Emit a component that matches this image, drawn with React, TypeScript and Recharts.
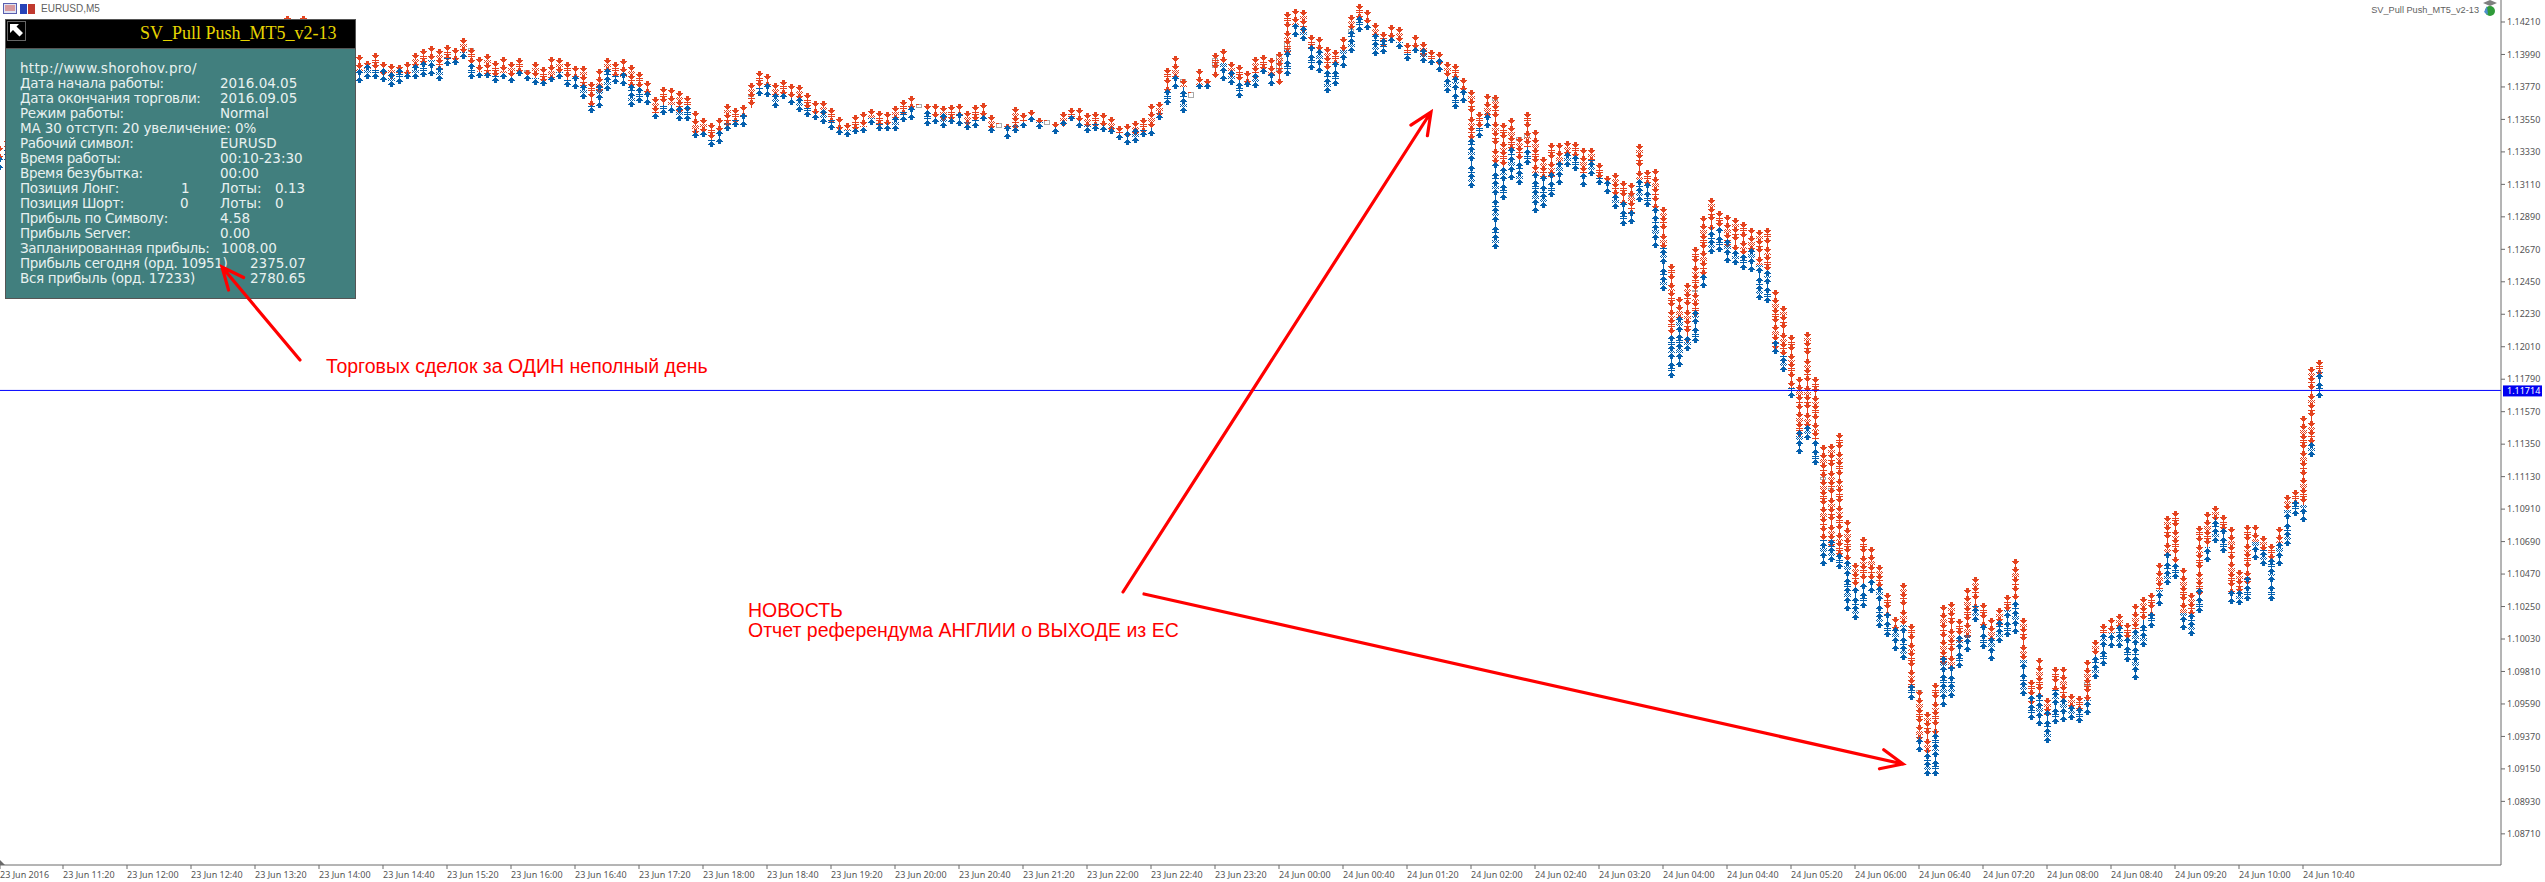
import { ComposedChart, Bar, XAxis, YAxis, ReferenceLine } from "recharts";

// M5 bars, prices in points (1/100000)
const barHigh = [
  113370, 113420, 113480, 113510, 113560, 113600, 113580, 113640, 113680, 113720,
  113700, 113760, 113790, 113830, 113810, 113860, 113900, 113880, 113930, 113960,
  113940, 113990, 114010, 113980, 114030, 114060, 114040, 114090, 114110, 114080,
  114130, 114150, 114120, 114170, 114190, 114210, 114251, 114200, 114251, 114180,
  114150, 114110, 114080, 114040, 114010, 113984, 113948, 113998, 113941, 113923,
  113917, 113941, 113998, 114027, 114048, 114027, 114054, 114032, 114100, 114032,
  113975, 113991, 113948, 113971, 113937, 113964, 113885, 113937, 113903, 113971,
  113964, 113937, 113912, 113912, 113806, 113894, 113964, 113937, 113957, 113919,
  113869, 113810, 113704, 113768, 113761, 113743, 113711, 113607, 113558, 113524,
  113558, 113652, 113625, 113648, 113795, 113878, 113858, 113795, 113817, 113790,
  113783, 113727, 113673, 113675, 113625, 113564, 113524, 113578, 113598, 113621,
  113607, 113600, 113641, 113682, 113709, 113652, 113652, 113655, 113641, 113648,
  113655, 113605, 113648, 113659, 113580, 113528, 113519, 113632, 113591, 113614,
  113558, 113546, 113533, 113600, 113625, 113628, 113591, 113600, 113591, 113564,
  113506, 113519, 113542, 113558, 113655, 113666, 113896, 113980, 113822, 113738,
  113890, 113822, 113998, 114025, 113937, 113919, 113880, 113975, 113986, 113964,
  114009, 114275, 114298, 114291, 114122, 114106, 114043, 114020, 114106, 114260,
  114330, 114291, 114205, 114140, 114187, 114174, 114065, 114122, 114077, 114020,
  114004, 113941, 113923, 113828, 113749, 113600, 113722, 113715, 113526, 113560,
  113431, 113600, 113478, 113295, 113390, 113390, 113404, 113397, 113356, 113356,
  113255, 113167, 113187, 113133, 113119, 113383, 113207, 113214, 112957, 112570,
  112347, 112442, 112686, 112896, 113018, 112929, 112902, 112882, 112855, 112814,
  112801, 112814, 112394, 112286, 112089, 111805, 112110, 111805, 111344, 111351,
  111425, 110836, 110545, 110721, 110653, 110531, 110341, 110179, 110409, 110131,
  109684, 109535, 109732, 110260, 110280, 110165, 110375, 110450, 110274, 110172,
  110240, 110328, 110572, 110172, 109752, 109901, 109630, 109840, 109840, 109657,
  109644, 109887, 110023, 110131, 110172, 110199, 110138, 110267, 110314, 110341,
  110545, 110863, 110897, 110511, 110341, 110795, 110890, 110931, 110870, 110789,
  110497, 110802, 110802, 110728, 110673, 110789, 111005, 111039, 111541, 111873,
  111920,
];
const barMid = [
  113288, 113330, 113390, 113430, 113470, 113520, 113490, 113550, 113590, 113640,
  113620, 113680, 113700, 113750, 113740, 113780, 113820, 113800, 113860, 113880,
  113870, 113910, 113930, 113920, 113950, 113980, 113970, 114010, 114030, 114020,
  114050, 114060, 114050, 114090, 114100, 114120, 114150, 114120, 114140, 114090,
  114060, 114030, 113990, 113960, 113930, 113874, 113890, 113885, 113862, 113851,
  113862, 113874, 113908, 113919, 113953, 113908, 113964, 113964, 114009, 113908,
  113874, 113874, 113851, 113862, 113840, 113885, 113840, 113829, 113817, 113840,
  113874, 113817, 113817, 113772, 113648, 113761, 113885, 113851, 113840, 113783,
  113750, 113727, 113591, 113648, 113648, 113614, 113614, 113479, 113467, 113411,
  113467, 113524, 113546, 113558, 113625, 113761, 113761, 113693, 113727, 113693,
  113677, 113625, 113603, 113591, 113546, 113501, 113479, 113490, 113501, 113558,
  113524, 113524, 113546, 113603, 113625, 113641, 113614, 113564, 113558, 113569,
  113580, 113535, 113546, 113580, 113501, 113512, 113490, 113512, 113535, 113564,
  113535, 113528, 113501, 113535, 113569, 113546, 113512, 113524, 113512, 113501,
  113456, 113445, 113456, 113479, 113490, 113591, 113750, 113851, 113772, 113727,
  113783, 113795, 113862, 113930, 113851, 113817, 113817, 113851, 113896, 113851,
  113794, 114020, 114190, 114167, 114020, 114020, 113862, 113919, 114020, 114167,
  114246, 114201, 114133, 114065, 114099, 114077, 113998, 114043, 114009, 113953,
  113930, 113840, 113817, 113749, 113390, 113492, 113593, 113255, 113228, 113343,
  113275, 113363, 113187, 113139, 113160, 113241, 113322, 113289, 113187, 113275,
  113160, 113119, 113038, 112970, 112923, 113139, 113092, 112957, 112686, 112076,
  112191, 112055, 112238, 112482, 112821, 112821, 112713, 112665, 112631, 112665,
  112564, 112530, 112022, 111954, 111730, 111425, 111459, 111378, 110700, 110680,
  110585, 110565, 110382, 110409, 110429, 110362, 110192, 110091, 110125, 109705,
  109366, 109278, 109413, 109887, 109820, 110023, 110057, 110260, 110125, 110023,
  110125, 110226, 110294, 109887, 109616, 109650, 109515, 109684, 109616, 109583,
  109562, 109616, 109921, 110070, 110070, 110125, 110023, 110091, 110158, 110206,
  110362, 110585, 110545, 110206, 110206, 110341, 110653, 110850, 110748, 110341,
  110362, 110429, 110687, 110633, 110545, 110680, 110904, 110958, 110938, 111344,
  111839,
];
const barLow = [
  113207, 113260, 113300, 113350, 113400, 113440, 113420, 113480, 113520, 113560,
  113570, 113610, 113640, 113680, 113690, 113710, 113750, 113760, 113790, 113820,
  113830, 113850, 113870, 113860, 113890, 113910, 113920, 113950, 113970, 113960,
  113990, 114000, 114000, 114020, 114040, 114050, 114070, 114060, 114060, 114010,
  113980, 113940, 113910, 113880, 113840, 113799, 113822, 113822, 113806, 113772,
  113788, 113822, 113822, 113835, 113847, 113813, 113912, 113921, 113957, 113826,
  113833, 113833, 113799, 113822, 113799, 113847, 113813, 113786, 113777, 113806,
  113822, 113772, 113756, 113686, 113591, 113625, 113745, 113788, 113777, 113637,
  113659, 113646, 113551, 113578, 113596, 113542, 113542, 113427, 113433, 113366,
  113381, 113474, 113501, 113501, 113625, 113711, 113704, 113630, 113691, 113650,
  113603, 113569, 113546, 113519, 113479, 113445, 113433, 113451, 113460, 113512,
  113472, 113472, 113472, 113535, 113546, 113630, 113506, 113519, 113494, 113517,
  113506, 113479, 113492, 113539, 113460, 113501, 113418, 113460, 113490, 113535,
  113485, 113519, 113451, 113508, 113542, 113494, 113460, 113474, 113467, 113451,
  113411, 113377, 113393, 113429, 113440, 113546, 113648, 113756, 113596, 113704,
  113754, 113754, 113862, 113813, 113783, 113693, 113772, 113761, 113858, 113776,
  113794, 113844, 114111, 114083, 113885, 113867, 113731, 113776, 113896, 114002,
  114140, 114156, 113980, 113993, 114065, 114025, 113948, 114002, 113930, 113919,
  113873, 113731, 113618, 113663, 113085, 113424, 113492, 112672, 113004, 113139,
  113106, 113241, 112916, 112950, 113024, 113106, 113228, 113200, 113092, 113167,
  113106, 113045, 112943, 112828, 112841, 112990, 112957, 112679, 112387, 111798,
  111873, 111981, 112035, 112408, 112638, 112652, 112577, 112564, 112530, 112516,
  112326, 112306, 111961, 111839, 111663, 111283, 111378, 111209, 110524, 110551,
  110504, 110219, 110158, 110240, 110341, 110104, 110043, 109948, 109887, 109616,
  109264, 109102, 109102, 109569, 109630, 109833, 109942, 110145, 109962, 109881,
  110003, 110043, 110064, 109644, 109481, 109440, 109325, 109454, 109467, 109481,
  109461, 109515, 109759, 109847, 109969, 109969, 109874, 109752, 109976, 110104,
  110253, 110396, 110436, 110091, 110050, 110206, 110551, 110680, 110612, 110267,
  110260, 110287, 110565, 110524, 110287, 110524, 110660, 110863, 110822, 111263,
  111663,
];

// grey candles that show through the deal marks
const greyBars = [59, 66, 94, 148, 152, 160, 161, 169, 187, 190, 191, 204, 212, 228, 229, 240, 261];
const greyHigh = [114032, 113885, 113625, 113822, 113930, 113953, 113840, 114043, 113670, 113438, 113275, 112936, 112044, 110870, 110700, 109684, 109562];
const greyLow = [113987, 113863, 113603, 113783, 113795, 113727, 113738, 114002, 113636, 113388, 113234, 112914, 112033, 110836, 110670, 109650, 109515];

const priceTicks = [
  114210, 113990, 113770, 113550, 113330, 113110, 112890, 112670, 112450, 112230,
  112010, 111790, 111570, 111350, 111130, 110910, 110690, 110470, 110250, 110030,
  109810, 109590, 109370, 109150, 108930, 108710,
];
const lastPrice = 111714;

const timeTickBars = [
  0.125, 8, 16, 24, 32, 40, 48, 56, 64, 72, 80, 88, 96, 104, 112, 120, 128, 136, 144,
  152, 160, 168, 176, 184, 192, 200, 208, 216, 224, 232, 240, 248, 256, 264, 272, 280, 288,
];
const timeLabels = [
  "23 Jun 2016", "23 Jun 11:20", "23 Jun 12:00", "23 Jun 12:40", "23 Jun 13:20", "23 Jun 14:00",
  "23 Jun 14:40", "23 Jun 15:20", "23 Jun 16:00", "23 Jun 16:40", "23 Jun 17:20", "23 Jun 18:00",
  "23 Jun 18:40", "23 Jun 19:20", "23 Jun 20:00", "23 Jun 20:40", "23 Jun 21:20", "23 Jun 22:00",
  "23 Jun 22:40", "23 Jun 23:20", "24 Jun 00:00", "24 Jun 00:40", "24 Jun 01:20", "24 Jun 02:00",
  "24 Jun 02:40", "24 Jun 03:20", "24 Jun 04:00", "24 Jun 04:40", "24 Jun 05:20", "24 Jun 06:00",
  "24 Jun 06:40", "24 Jun 07:20", "24 Jun 08:00", "24 Jun 08:40", "24 Jun 09:20", "24 Jun 10:00",
  "24 Jun 10:40",
];

const panelRows: [string, number][][] = [
  [["http://www.shorohov.pro/", 20]],
  [["Дата начала работы:", 20], ["2016.04.05", 220]],
  [["Дата окончания торговли:", 20], ["2016.09.05", 220]],
  [["Режим работы:", 20], ["Normal", 220]],
  [["MA 30 отступ: 20 увеличение: 0%", 20]],
  [["Рабочий символ:", 20], ["EURUSD", 220]],
  [["Время работы:", 20], ["00:10-23:30", 220]],
  [["Время безубытка:", 20], ["00:00", 220]],
  [["Позиция Лонг:", 20], ["1", 181], ["Лоты:", 220], ["0.13", 275]],
  [["Позиция Шорт:", 20], ["0", 180], ["Лоты:", 220], ["0", 275]],
  [["Прибыль по Символу:", 20], ["4.58", 220]],
  [["Прибыль Server:", 20], ["0.00", 220]],
  [["Запланированная прибыль:", 20], ["1008.00", 221]],
  [["Прибыль сегодня (орд. 10951)", 20], ["2375.07", 250]],
  [["Вся прибыль (орд. 17233)", 20], ["2780.65", 250]],
];

const rows = barHigh.map((high, i) => {
  const g = greyBars.indexOf(i);
  return {
    bar: i,
    high,
    mid: barMid[i],
    low: barLow[i],
    greyHigh: g >= 0 ? greyHigh[g] : null,
    greyLow: g >= 0 ? greyLow[g] : null,
  };
});

const RED = "#e4431f";
const BLUE = "#0560ae";
const GREY = "#aaaaaa";
const AXIS = "#6a6a6a";
const TICK_FONT = "'Noto Sans', 'Liberation Sans', sans-serif";
const ARROW_ROWS = [3, 3, 7, 5, 3, 1];

// pixel glyph helpers, y always grows downward
const pxRow = (cx: number, y: number, w: number) => `M${cx - (w - 1) / 2} ${y}h${w}v1h-${w}z`;

function fillGap(cx: number, y0: number, y1: number, kind: number) {
  let d = "";
  for (let y = y0; y < y1; y++) {
    if (kind === 1) {
      for (let j = (y % 2) - 3; j <= 3; j += 2) d += `M${cx + j} ${y}h1v1h-1z`;
    } else if (kind === 2) {
      if (y % 2 === 0) d += pxRow(cx, y, 7);
      else d += pxRow(cx, y, 1);
    } else {
      d += pxRow(cx, y, 1);
    }
  }
  return d;
}

function buildMarks(cx: number, top: number, bottom: number, bar: number, down: boolean) {
  // walks from the outer end of the section towards the middle of the bar
  let d = "";
  const span = bottom - top;
  let walked = 0;
  let n = 0;
  while (walked < span || n === 0) {
    ARROW_ROWS.forEach((w, k) => {
      const y = down ? top + walked + k : bottom - walked - k - 1;
      d += pxRow(cx, y, w);
    });
    const gap = 2 + ((bar + n * 2) % 3);
    const kind = (bar * 7 + n) % 3;
    const from = walked + 6;
    const to = Math.min(walked + 6 + gap, span);
    if (to > from) {
      d += down
        ? fillGap(cx, top + from, top + to, kind)
        : fillGap(cx, bottom - to, bottom - from, kind);
    }
    walked += 6 + gap;
    n++;
  }
  return d;
}

function DealColumn(props: any) {
  const { x, y, width, height, payload } = props;
  if (x == null || y == null) return null;
  const cx = Math.round(x + width / 2);
  const { high, mid, low, greyHigh: gh, greyLow: gl, bar } = payload;
  const pxPerPoint = height > 0 ? height / (high - low) : 0.06775;
  const top = Math.round(y);
  const bottom = Math.round(y + height);
  const midY = Math.round(y + (high - mid) * pxPerPoint);
  const grey =
    gh != null ? (
      <rect
        x={cx - 2.5}
        y={Math.round(y + (high - gh) * 0.06775) + 0.5}
        width={5}
        height={Math.max(1, Math.round((gh - gl) * 0.06775))}
        fill="none"
        stroke={GREY}
      />
    ) : null;
  if (height < 6) {
    return (
      <g shapeRendering="crispEdges">
        <rect x={cx - 2.5} y={top + 0.5} width={5} height={Math.max(2, height)} fill="none" stroke={GREY} />
        <rect x={cx - 3} y={top} width={3} height={1} fill={RED} />
      </g>
    );
  }
  return (
    <g shapeRendering="crispEdges">
      {grey}
      <path d={buildMarks(cx, top, midY, bar, true)} fill={RED} />
      {bottom - midY >= 3 ? <path d={buildMarks(cx, midY, bottom, bar, false)} fill={BLUE} /> : null}
    </g>
  );
}

function TimeTick(props: any) {
  const { x, index } = props;
  return (
    <text x={x} y={878} fill="#555555" fontSize={9} fontFamily={TICK_FONT} textAnchor="start">
      {timeLabels[index]}
    </text>
  );
}

function PriceTag(props: any) {
  const { viewBox } = props;
  const tagX = viewBox.x + viewBox.width + 2;
  return (
    <g>
      <rect x={tagX} y={viewBox.y - 5} width={39} height={11} fill="#0000f0" />
      <text x={tagX + 4} y={viewBox.y + 3.5} fill="#ffffff" fontSize={9} fontFamily={TICK_FONT}>
        {(lastPrice / 100000).toFixed(5)}
      </text>
    </g>
  );
}

function arrowPath(x1: number, y1: number, x2: number, y2: number) {
  const a = Math.atan2(y1 - y2, x1 - x2);
  const len = 24;
  const spread = 0.42;
  const bx = x2 + len * Math.cos(a + spread);
  const by = y2 + len * Math.sin(a + spread);
  const cx = x2 + len * Math.cos(a - spread);
  const cy = y2 + len * Math.sin(a - spread);
  return `M${x1} ${y1}L${x2} ${y2}M${bx} ${by}L${x2} ${y2}L${cx} ${cy}`;
}

function labelSpacing(r: number, left: number) {
  if (left !== 20) return 0;
  if (r === 0) return 0.3;
  if (r === 4) return -0.1;
  return -0.35;
}

function Panel() {
  return (
    <div
      style={{
        position: "absolute",
        left: 5,
        top: 19,
        width: 349,
        height: 278,
        background: "#417f7e",
        border: "1px solid #555555",
        overflow: "hidden",
      }}
    >
      <div style={{ position: "absolute", left: 0, top: 0, width: 349, height: 28, background: "#000000", borderBottom: "1px solid #555555" }} />
      <div
        style={{
          position: "absolute",
          left: 134,
          top: 3,
          fontFamily: "'Liberation Serif', serif",
          fontSize: 18,
          color: "#e6d400",
          whiteSpace: "pre",
        }}
      >
        SV_Pull Push_MT5_v2-13
      </div>
      <svg style={{ position: "absolute", left: 1, top: 1 }} width={19} height={20}>
        <rect x={0.5} y={0.5} width={18} height={19} fill="#000000" stroke="#666666" />
        <path d="M3 3H12L9.5 5.5L16 12L12.5 15.5L6 9L3 12Z" fill="#ffffff" />
      </svg>
      {panelRows.map((cells, r) =>
        cells.map(([text, left]) => (
          <div
            key={`${r}-${left}`}
            style={{
              position: "absolute",
              left: left - 6,
              top: 40 + r * 15,
              fontFamily: "'DejaVu Sans', sans-serif",
              fontSize: 13.5,
              lineHeight: "16px",
              letterSpacing: labelSpacing(r, left),
              color: "#e8f1f0",
              whiteSpace: "pre",
            }}
          >
            {text}
          </div>
        )),
      )}
    </div>
  );
}

function Overlay() {
  const sans = "'Liberation Sans', Arial, sans-serif";
  return (
    <svg style={{ position: "absolute", left: 0, top: 0 }} width={2545} height={882}>
      <g fill="none" stroke="#ff0000" strokeWidth={3.2} strokeLinecap="round">
        <path d={arrowPath(300, 360, 222, 267)} />
        <path d={arrowPath(1123, 592, 1431, 112)} />
        <path d={arrowPath(1144, 594, 1903, 764)} />
      </g>
      <text x={326} y={373} fill="#ff0000" fontSize={19.5} fontFamily={sans}>
        Торговых сделок за ОДИН неполный день
      </text>
      <text x={748} y={617} fill="#ff0000" fontSize={19.5} fontFamily={sans}>
        НОВОСТЬ
      </text>
      <text x={748} y={637} fill="#ff0000" fontSize={19.5} fontFamily={sans}>
        Отчет референдума АНГЛИИ о ВЫХОДЕ из ЕС
      </text>

      <rect x={3.5} y={3.5} width={13} height={10} fill="#dfe3f2" stroke="#5a5fb0" />
      <path d="M5 6h10M5 8h10M5 10h10" stroke="#d0504a" />
      <rect x={20} y={4} width={7} height={10} fill="#2743b8" />
      <rect x={28} y={4} width={7} height={10} fill="#c0392f" />
      <text x={41} y={12} fill="#5f5f5f" fontSize={10} fontFamily={sans}>
        EURUSD,M5
      </text>
      <text x={2479} y={13} fill="#5f5f5f" fontSize={9.2} fontFamily={sans} textAnchor="end">
        SV_Pull Push_MT5_v2-13
      </text>
      <path d="M2483 3L2490 0L2497 3L2490 6Z" fill="#808080" />
      <circle cx={2490} cy={11} r={5} fill="#2f9b3a" />
      <path d="M2484 12L2487 6L2488 15Z" fill="#4f8fd0" />
      <path d="M0 860L5 865H0Z" fill="#6a6a6a" />
    </svg>
  );
}

export default function App() {
  return (
    <div style={{ position: "absolute", left: 0, top: 0, width: 2545, height: 882, background: "#ffffff", overflow: "hidden" }}>
      <ComposedChart
        width={2545}
        height={882}
        data={rows}
        margin={{ top: 0, right: 0, bottom: 0, left: 0 }}
      >
        <XAxis
          dataKey="bar"
          type="number"
          domain={[0.125, 312.75]}
          allowDataOverflow
          ticks={timeTickBars}
          interval={0}
          height={17}
          tickSize={4}
          stroke={AXIS}
          tick={<TimeTick />}
        />
        <YAxis
          orientation="right"
          type="number"
          domain={[108499, 114359]}
          allowDataOverflow
          ticks={priceTicks}
          interval={0}
          width={44}
          tickSize={4}
          tickMargin={2}
          stroke={AXIS}
          tick={{ fill: "#555555", fontSize: 9, fontFamily: TICK_FONT }}
          tickFormatter={(v: number) => (v / 100000).toFixed(5)}
        />
        <ReferenceLine y={lastPrice} stroke="#0000ff" label={<PriceTag />} />
        <Bar
          dataKey={(d: any) => [d.low, d.high]}
          barSize={8}
          shape={<DealColumn />}
          isAnimationActive={false}
        />
      </ComposedChart>
      <Panel />
      <Overlay />
    </div>
  );
}
